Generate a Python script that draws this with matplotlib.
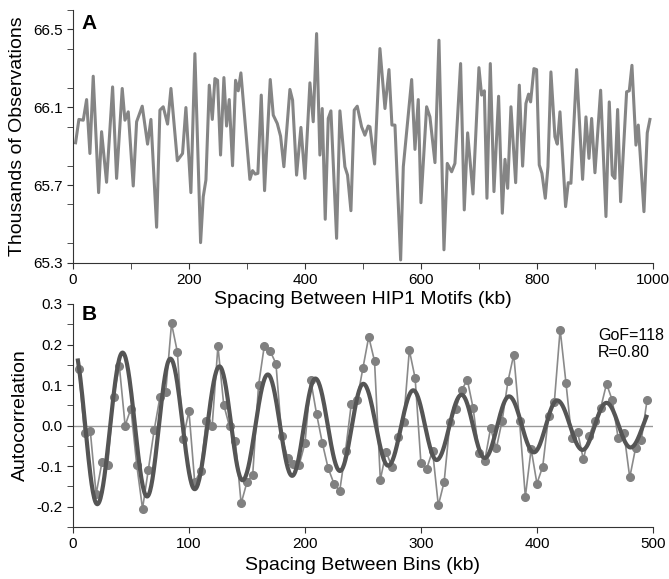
import numpy as np
import matplotlib
matplotlib.use("Agg")
import matplotlib.pyplot as plt
from matplotlib.ticker import MultipleLocator, FormatStrFormatter

plt.rcParams['font.family'] = ['Liberation Sans', 'DejaVu Sans']
plt.rcParams['axes.unicode_minus'] = False

# panel A: observations vs spacing (kb, thousands)
a_kb = [4.6, 10.3, 17.8, 23.6, 29.3, 35, 44.3, 49.4, 58, 68.4, 75.3, 85, 89.7, 95.4,
        104, 109.8, 119.5, 128.7, 134.5, 144.3, 150, 155.7, 163.2, 169, 180, 189,
        194.8, 203.4, 210.3, 220.1, 224.7, 229.3, 235.1, 240.3, 244.8, 249.4, 254.5,
        260.3, 264.9, 269.5, 275.2, 280.4, 285, 289.6, 305.1, 309.7, 314.3, 318.9,
        324.7, 330.4, 340.2, 345.4, 352.3, 358, 363.7, 374.1, 378.7, 385.6, 393.1,
        400, 408.6, 414.3, 420.1, 425.8, 429.8, 435, 440.2, 444.8, 454.6, 460.3,
        468.9, 473.5, 479.3, 485, 490.2, 497.7, 503.4, 509.1, 512.1, 520.1, 529.3,
        538, 544.9, 550, 555.2, 565, 569.6, 584, 589.7, 595.4, 600, 609.8, 615.5,
        624.2, 631.1, 639.7, 645.4, 652.9, 658.6, 668.4, 674.7, 680.5, 689.7, 700,
        704.6, 709.3, 713.8, 719.6, 725.9, 733.9, 740.3, 744.9, 749.5, 755.2, 763.3,
        769.6, 775.3, 781, 785.6, 789.1, 794.8, 799.4, 804, 808.6, 814.4, 819, 824.1,
        831, 835.1, 839.7, 849.4, 854, 858.6, 868.4, 878.7, 884.5, 889.7, 894.3, 900,
        909.8, 919, 924.7, 929.9, 934.5, 939.1, 944.3, 954.6, 959.2, 963.8, 970.7,
        974.7, 984.5, 990.2, 994.8]
a_obs = [65.917, 66.037, 66.033, 66.139, 65.862, 66.259, 65.661, 65.974, 65.714,
         66.204, 65.734, 66.196, 66.033, 66.076, 65.695, 66.025, 66.105, 65.910,
         66.037, 65.483, 66.085, 66.102, 66.013, 66.196, 65.825, 65.862, 66.098,
         65.661, 66.375, 65.404, 65.640, 65.726, 66.213, 66.037, 66.247, 66.238,
         65.854, 66.252, 66.003, 66.139, 65.799, 66.238, 66.184, 66.276, 65.729,
         65.774, 65.756, 65.760, 66.162, 65.671, 66.242, 66.059, 66.016, 65.951,
         65.794, 66.191, 66.136, 65.751, 65.996, 65.734, 66.225, 66.025, 66.478,
         65.854, 66.093, 65.524, 66.042, 66.081, 65.426, 66.081, 65.794, 65.751,
         65.568, 66.085, 66.105, 65.999, 65.956, 66.003, 65.999, 65.808, 66.401,
         66.093, 66.293, 66.008, 66.008, 65.315, 65.794, 66.242, 65.883, 66.139,
         65.609, 66.102, 66.050, 65.815, 66.444, 65.367, 65.811, 65.768, 65.811,
         66.324, 65.572, 65.968, 65.654, 66.303, 66.162, 66.184, 65.632, 66.324,
         65.666, 66.156, 65.555, 65.832, 65.683, 66.102, 65.712, 66.213, 65.797,
         66.119, 66.167, 66.127, 66.298, 66.293, 65.803, 65.760, 65.632, 65.794,
         66.281, 65.948, 65.910, 66.076, 65.589, 65.712, 65.709, 66.293, 65.729,
         66.050, 65.837, 66.042, 65.763, 66.187, 65.538, 66.127, 65.751, 65.734,
         66.088, 65.614, 66.179, 66.184, 66.315, 65.905, 66.008, 65.563, 65.968,
         66.037]

# panel B: autocorrelation per 5 kb bin
b_kb = list(range(5, 500, 5))
b_acf = [0.139, -0.019, -0.014, -0.169, -0.091, -0.097, 0.070, 0.147, 0.000, 0.042,
         -0.097, -0.205, -0.109, -0.012, 0.070, 0.083, 0.252, 0.182, -0.033, 0.036,
         -0.140, -0.112, 0.012, -0.002, 0.196, 0.051, -0.002, -0.037, -0.192, -0.140,
         -0.121, 0.099, 0.197, 0.184, 0.153, -0.026, -0.079, -0.095, -0.097, -0.044,
         0.112, 0.029, -0.043, -0.105, -0.143, -0.161, -0.062, 0.054, 0.064, 0.142,
         0.219, 0.159, -0.134, -0.064, -0.103, -0.029, 0.008, 0.186, 0.117, -0.093,
         -0.106, -0.062, -0.197, -0.139, 0.008, 0.041, 0.087, 0.113, 0.043, -0.068,
         -0.087, -0.007, -0.056, 0.012, 0.109, 0.175, 0.012, -0.176, -0.058, -0.143,
         -0.101, 0.023, 0.058, 0.237, 0.106, -0.031, -0.015, -0.083, -0.025, 0.012,
         0.044, 0.103, 0.062, -0.031, -0.018, -0.128, -0.056, -0.035, 0.064]

# fitted curve: peaks and troughs
fit_x = [0, 21, 42.8, 63.9, 84, 105, 126.3, 146.2, 168, 189, 209, 230.2, 250.3,
         271.8, 293.4, 313.5, 335, 355, 376, 397.4, 417.5, 439.3, 460, 480.7, 502]
fit_y = [0.20, -0.194, 0.180, -0.175, 0.165, -0.157, 0.146, -0.135, 0.126, -0.124,
         0.116, -0.112, 0.103, -0.099, 0.087, -0.085, 0.076, -0.080, 0.072, -0.066,
         0.062, -0.060, 0.056, -0.054, 0.052]
fit_start, fit_end = 4, 494.5
gof_text = "GoF=118\nR=0.80"

# half-cosine segments between read extrema
fx, fy = [], []
for i in range(len(fit_x) - 1):
    t = np.linspace(0, 1, 40)
    xs = fit_x[i] + (fit_x[i + 1] - fit_x[i]) * t
    ys = fit_y[i + 1] + (fit_y[i] - fit_y[i + 1]) * (1 + np.cos(np.pi * t)) / 2
    fx.extend(xs)
    fy.extend(ys)
fx, fy = np.array(fx), np.array(fy)
keep = (fx >= fit_start) & (fx <= fit_end)

fig = plt.figure(figsize=(6.69, 5.79), dpi=100)
ax1 = fig.add_axes([0.109, 0.546, 0.867, 0.437])
ax2 = fig.add_axes([0.109, 0.090, 0.867, 0.385])
ax2.patch.set_visible(False)

for ax in (ax1, ax2):
    ax.spines['top'].set_visible(False)
    ax.spines['right'].set_visible(False)
    ax.spines['left'].set_color('#333333')
    ax.spines['bottom'].set_color('#333333')
    ax.tick_params(which='both', direction='out', color='#333333', labelsize=11)
    ax.tick_params(which='major', length=4)
    ax.tick_params(which='minor', length=4)

ax1.plot(a_kb, a_obs, color='#858585', lw=2.2, solid_joinstyle='round')
ax1.set_xlim(0, 1000)
ax1.set_ylim(65.3, 66.6)
ax1.set_yticks([65.3, 65.7, 66.1, 66.5])
ax1.yaxis.set_minor_locator(MultipleLocator(0.2))
ax1.yaxis.set_major_formatter(FormatStrFormatter('%.1f'))
ax1.xaxis.set_major_locator(MultipleLocator(200))
ax1.xaxis.set_minor_locator(MultipleLocator(100))
ax1.set_xlabel("Spacing Between HIP1 Motifs (kb)", fontsize=14, labelpad=3)
ax1.set_ylabel("Thousands of Observations", fontsize=14, labelpad=5)
ax1.text(0.015, 0.985, "A", transform=ax1.transAxes, fontsize=15,
         fontweight='bold', va='top', ha='left')

ax2.axhline(0, color='#999999', lw=1.0)
ax2.plot(b_kb, b_acf, color='#8a8a8a', lw=1.2, marker='o', ms=5.5,
         markerfacecolor='#808080', markeredgecolor='#808080')
ax2.plot(fx[keep], fy[keep], color='#555555', lw=3.0)
ax2.set_xlim(0, 500)
ax2.set_ylim(-0.25, 0.3)
ax2.yaxis.set_major_locator(MultipleLocator(0.1))
ax2.yaxis.set_minor_locator(MultipleLocator(0.05))
ax2.yaxis.set_major_formatter(FormatStrFormatter('%.1f'))
ax2.xaxis.set_major_locator(MultipleLocator(100))
ax2.set_xlabel("Spacing Between Bins (kb)", fontsize=14, labelpad=4)
ax2.set_ylabel("Autocorrelation", fontsize=14, labelpad=5)
ax2.text(0.015, 0.995, "B", transform=ax2.transAxes, fontsize=15,
         fontweight='bold', va='top', ha='left')
ax2.text(0.905, 0.89, gof_text, transform=ax2.transAxes, fontsize=11.5,
         va='top', ha='left', linespacing=1.1)

fig.savefig("out.png", dpi=100)
plt.close(fig)
